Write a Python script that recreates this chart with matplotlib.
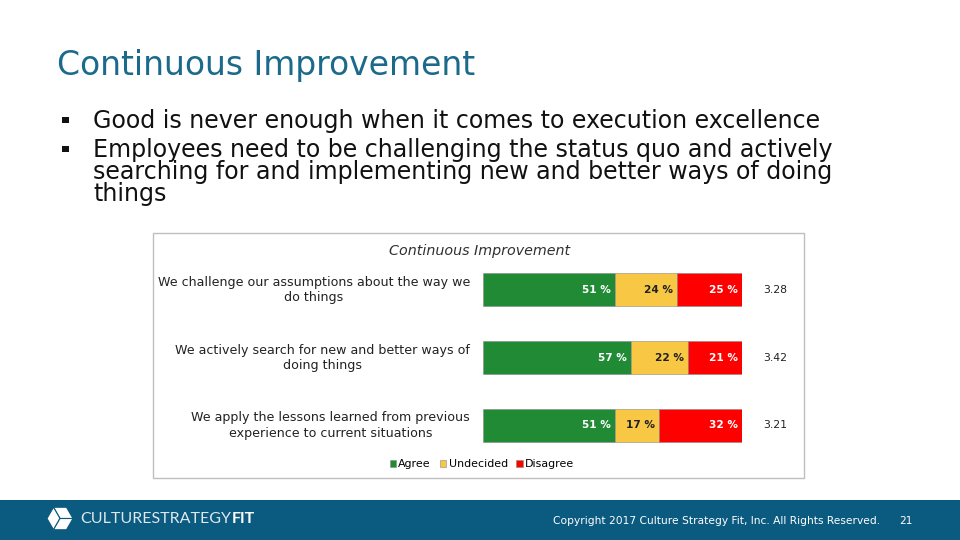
import numpy as np
import matplotlib.pyplot as plt
from matplotlib.patches import Rectangle, Polygon

# survey data
questions = [
    "We challenge our assumptions about the way we\ndo things",
    "We actively search for new and better ways of\ndoing things",
    "We apply the lessons learned from previous\nexperience to current situations",
]
agree = [51, 57, 51]
undecided = [24, 22, 17]
disagree = [25, 21, 32]
scores = [3.28, 3.42, 3.21]
series_names = ["Agree", "Undecided", "Disagree"]

bullet1 = "Good is never enough when it comes to execution excellence"
bullet2 = ["Employees need to be challenging the status quo and actively",
           "searching for and implementing new and better ways of doing",
           "things"]

blue = '#1b6a8c'
footer_blue = '#0b5a80'
colors = ['#218a35', '#f8c844', '#fe0000']
label_colors = ['white', '#202020', 'white']

plt.rcParams['font.family'] = ['DejaVu Sans']

fig = plt.figure(figsize=(9.6, 5.4), dpi=100)

# slide background in pixel coords
bg = fig.add_axes([0, 0, 1, 1])
bg.set_xlim(0, 960)
bg.set_ylim(540, 0)
bg.axis('off')

bg.text(57, 75, "Continuous Improvement", fontsize=23.8, color=blue, va='baseline')

# bullets
bg.add_patch(Rectangle((62, 116.5), 6.5, 6.5, color='#111111', lw=0))
bg.text(93, 128, bullet1, fontsize=17.1, va='baseline', color='#111111')
bg.add_patch(Rectangle((62, 145.5), 6.5, 6.5, color='#111111', lw=0))
for i, line in enumerate(bullet2):
    bg.text(93, 157 + 22 * i, line, fontsize=17.1, va='baseline', color='#111111')

# chart frame
bg.add_patch(Rectangle((153, 233), 651, 245, fill=False, ec='#bfbfbf', lw=1))
bg.text(480, 251, "Continuous Improvement", fontsize=10.3, style='italic',
        ha='center', va='center', color='#303030')

# footer
bg.add_patch(Rectangle((0, 500), 960, 40, color=footer_blue, lw=0))
bg.text(880, 521, "Copyright 2017 Culture Strategy Fit, Inc. All Rights Reserved.",
        fontsize=7.7, color='white', ha='right', va='center')
bg.text(913, 521, "21", fontsize=7.7, color='white', ha='right', va='center')

# logo cube (flat-top hexagon split in three faces)
cx, cy, r = 60, 518.5, 13
ang = np.deg2rad([0, 60, 120, 180, 240, 300])
px = cx + r * np.cos(ang)
py = cy - r * np.sin(ang)
faces = [[(cx, cy), (px[0], py[0]), (px[1], py[1]), (px[2], py[2])],
         [(cx, cy), (px[2], py[2]), (px[3], py[3]), (px[4], py[4])],
         [(cx, cy), (px[4], py[4]), (px[5], py[5]), (px[0], py[0])]]
for f in faces:
    bg.add_patch(Polygon(f, closed=True, fc='white', ec=footer_blue, lw=0.8))
logo = bg.text(80, 519, "CULTURESTRATEGY", fontsize=11.5, color='#dfe8ee',
               family='Lato', va='center')
fig.canvas.draw()
ext = logo.get_window_extent()
fit_x = bg.transData.inverted().transform((ext.x1, ext.y0))[0]
bg.text(fit_x + 1, 519, "FIT", fontsize=11.5, color='white', family='Lato',
        fontweight='bold', va='center')

# bar chart
ax = fig.add_axes([483 / 960, 1 - 459.5 / 540, 259 / 960, 204 / 540])
y = np.arange(len(questions))
left = np.zeros(len(questions))
handles = []
for vals, name, c, lc in zip([agree, undecided, disagree], series_names,
                             colors, label_colors):
    vals = np.array(vals, dtype=float)
    h = ax.barh(y, vals, left=left, height=0.49, color=c, ec='#8a8a8a',
                lw=0.4, label=name)
    handles.append(h)
    for yi, l, v in zip(y, left, vals):
        ax.text(l + v - 1.5, yi, f"{v:.0f} %", ha='right', va='center',
                fontsize=7.6, fontweight='bold', color=lc)
    left += vals

for yi, q, s in zip(y, questions, scores):
    ax.text(-5, yi, q, ha='right', va='center', multialignment='center',
            fontsize=9.1, color='#222222')
    ax.text(108, yi, f"{s:.2f}", ha='left', va='center', fontsize=7.8,
            color='#222222')

ax.set_xlim(0, 100)
ax.set_ylim(2.5, -0.5)
ax.axis('off')

ax.legend(handles=handles, loc='center', bbox_to_anchor=(482 / 960, 1 - 464 / 540),
          bbox_transform=fig.transFigure, ncol=3, frameon=False, fontsize=7.9,
          handlelength=0.6, handleheight=0.6, handletextpad=0.2,
          columnspacing=0.8)

fig.savefig('out.png', dpi=100)
